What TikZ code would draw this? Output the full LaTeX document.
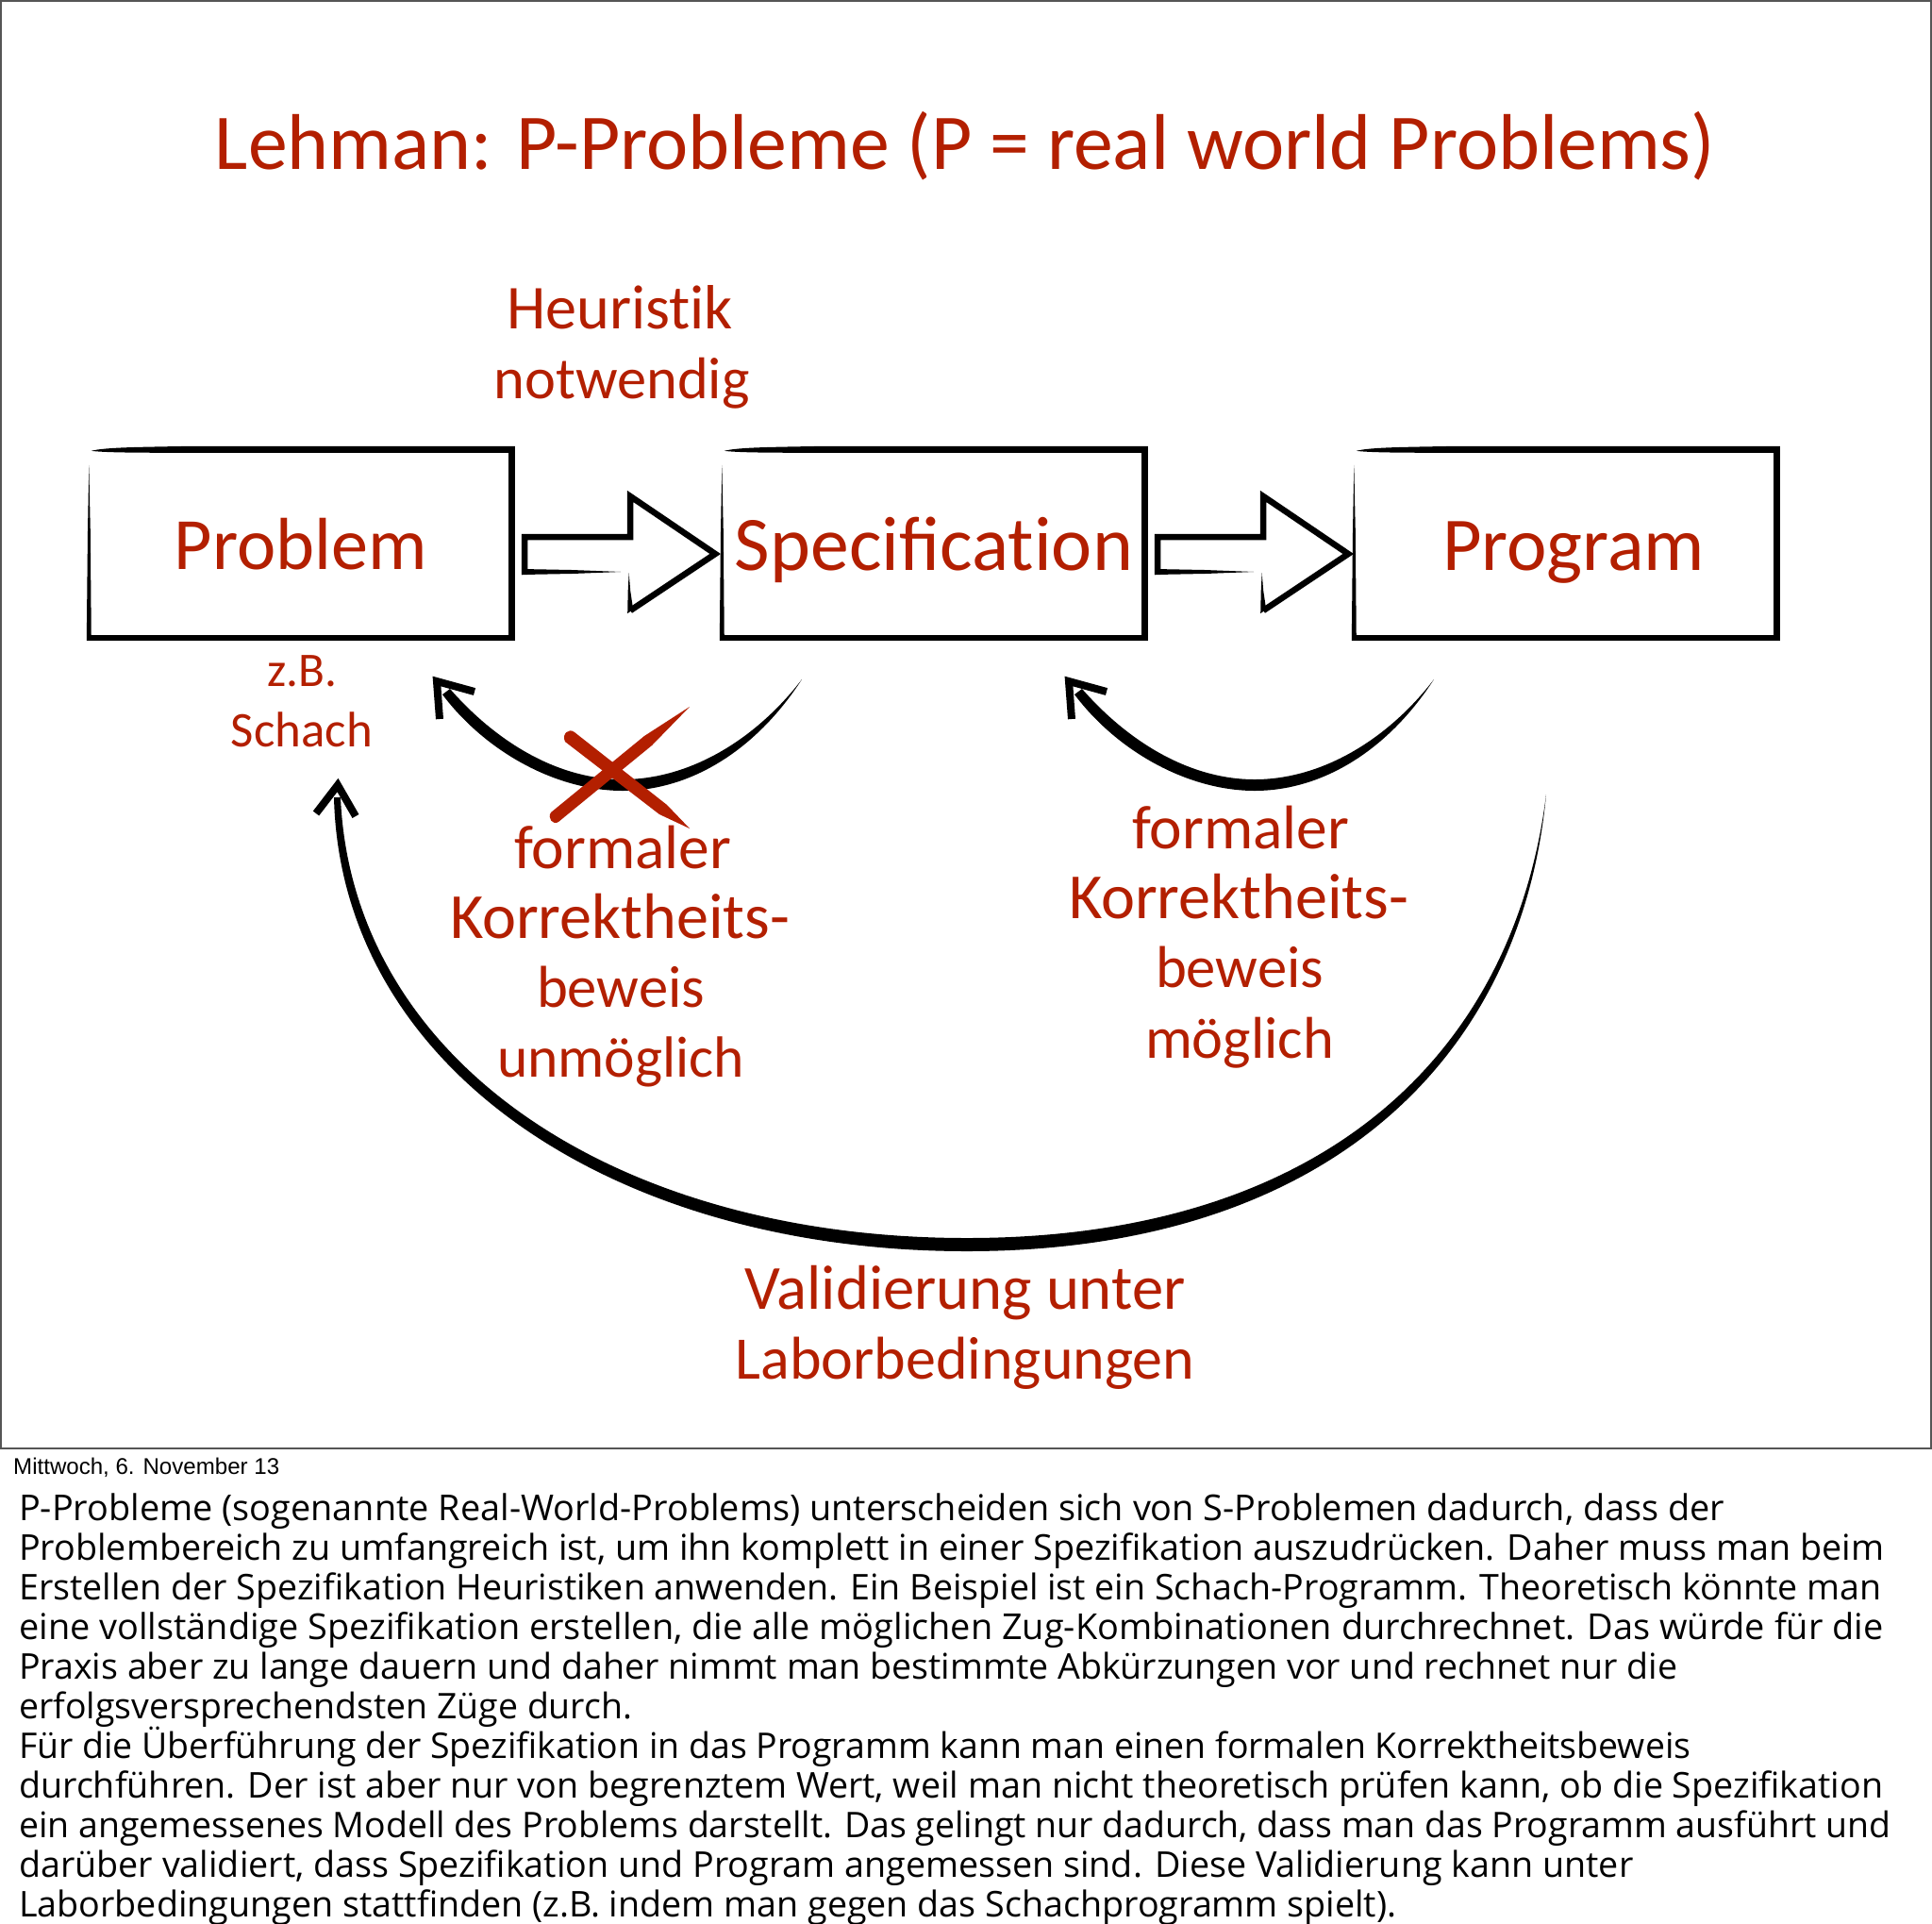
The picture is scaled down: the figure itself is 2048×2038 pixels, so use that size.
\documentclass[tikz,border=0pt]{standalone}
\usepackage{graphicx}
\usepackage{fontspec}
\setmainfont{Carlito}
\newfontfamily\bodyfont{Open Sans}
\newfontfamily\datefont{Liberation Sans}
\usetikzlibrary{calc}
\definecolor{skred}{HTML}{B31F00}
\definecolor{framegray}{HTML}{555555}
\newcommand{\fitbox}[2]{\resizebox{#1pt}{!}{\vphantom{Ügl(}#2}}
\newcommand{\boxtext}[1]{\vbox{\vskip6pt\hbox{#1}}}
\tikzset{
  redlabel/.style={text=skred,inner sep=0pt,anchor=center,yshift=-0.5pt,font=\fontsize{40}{48}\selectfont},
  bodyline/.style={text=black,inner sep=0pt,anchor=west,yshift=-2pt,font=\bodyfont\fontsize{30}{36}\selectfont},
  skbox/.style={minimum width=454pt,minimum height=206pt,inner sep=0pt,text=skred,font=\fontsize{60}{70}\selectfont},
  skstroke/.style={draw=black,line width=6.5pt,miter limit=10,line join=miter},
  skhead/.style={draw=black,line width=8pt,line join=miter,miter limit=10},
}
\newcommand{\sketchsides}[1]{%
  \begin{scope}[shift={(#1.north west)}]
    \fill (5,5) .. controls (20,1) and (60,1) .. (110,0) -- (454,0) -- (454,7) -- (110,7) .. controls (60,7) and (20,7) .. (5,5) -- cycle;
    \fill (447,0) rectangle (454,206);
    \fill (0,200) rectangle (454,206);
    \fill (2.5,20) -- (1.2,90) -- (0,206) -- (5,206) -- (4,90) -- cycle;
  \end{scope}}
\newcommand{\blockarrow}[1]{%
  \begin{scope}[shift={(#1.east)}]
    \draw[skstroke] (10,33) -- (10,-7) -- (122,-7) -- (122,-50) -- (212,11) -- (122,71);
    \fill (7,27) -- (60,28) -- (112,30) -- (60,32) -- (7,33) -- cycle;
    \fill (119,74) -- (119.5,50) -- (120.5,31) -- (122,50) -- (125,70) -- cycle;
  \end{scope}}
\newcommand{\smallarc}[2]{%
  \begin{scope}[shift={(#1)}]
    \coordinate (#2tail) at (850,720);
    \coordinate (#2tip) at (463,722);
    \fill (#2tail) .. controls (800,797) and (730,838) .. (660,838) .. controls (590,838) and (515,797) .. (469,736) -- (477,730) .. controls (525,785) and (590,826) .. (660,826) .. controls (730,826) and (800,785) .. (#2tail) -- cycle;
    \draw[skhead] (466,762) -- (#2tip) -- (503,733);
  \end{scope}}
\begin{document}
\begin{tikzpicture}[x=1pt,y=-1pt]
\useasboundingbox (0,0) rectangle (2048,2038);
\fill[white] (0,0) rectangle (2048,2038);
\draw[framegray,line width=2pt] (1,1) rectangle (2047,1535);

\node[redlabel] (title) at (1023,153) {\fitbox{1590}{Lehman: P-Probleme (P = real world Problems)}};
\node[redlabel] (heur1) at (657,327) {\fitbox{240}{Heurist\kern0pt ik}};
\node[redlabel] (heur2) at (659,402) {\fitbox{271}{notwendig}};

\node[skbox] (prob) at (319,576) {\boxtext{\fitbox{268}{Problem}}};
\node[skbox] (spec) at (990,576) {\boxtext{\fitbox{422}{Specificat\kern0pt ion}}};
\node[skbox] (prog) at (1660,576) {\hspace*{16pt}\boxtext{\fitbox{278}{Program}}};
\sketchsides{prob}\sketchsides{spec}\sketchsides{prog}
\blockarrow{prob}\blockarrow{spec}

\node[redlabel] (zb) at (320,711) {\fitbox{74}{z.B.}};
\node[redlabel] (schach) at (320,774) {\fitbox{150}{Schach}};

\smallarc{0,0}{a}
\smallarc{670,0}{b}

% red cross
\fill[skred] (599,786) .. controls (595,778) and (603,771) .. (609,776) -- (707,853) -- (731,878) -- (699,863) -- cycle;
\fill[skred] (584,861) -- (683,780) -- (731,749) -- (691,790) -- (592,871) .. controls (586,875) and (580,867) .. (584,861) -- cycle;

% big arc
\coordinate (ctail) at (1639,842);
\coordinate (ctip) at (358,832);
\fill (ctail) .. controls (1612,1128) and (1400,1326) .. (1025,1326) .. controls (650,1326) and (361,1132) .. (354,845) -- (361,845) .. controls (373,1123) and (650,1312) .. (1025,1312) .. controls (1400,1312) and (1604,1120) .. (ctail) -- cycle;
\draw[skhead] (335,862) -- (ctip) -- (377,865);

\node[redlabel] (f1) at (660,899) {\fitbox{230}{formaler}};
\node[redlabel] (f2) at (657,973) {\fitbox{360}{Korrektheits-}};
\node[redlabel] (f3) at (658,1047) {\fitbox{178}{beweis}};
\node[redlabel] (f4) at (658,1122) {\fitbox{262}{unmöglich}};
\node[redlabel] (g1) at (1315,878) {\fitbox{230}{formaler}};
\node[redlabel] (g2) at (1313,952) {\fitbox{360}{Korrektheits-}};
\node[redlabel] (g3) at (1314,1026) {\fitbox{178}{beweis}};
\node[redlabel] (g4) at (1314,1101) {\fitbox{200}{möglich}};
\node[redlabel] (v1) at (1023,1366) {\fitbox{467}{Validierung unter}};
\node[redlabel] (v2) at (1023,1441) {\fitbox{487}{Laborbedingungen}};

\node[anchor=west,inner sep=0pt,yshift=-2pt,font=\datefont\fontsize{24}{28}\selectfont] (date) at (14,1553) {\fitbox{282}{Mittwoch, 6. November 13}};

\node[bodyline] (l1) at (20,1597) {\fitbox{1808}{P-Probleme (sogenannte Real-World-Problems) unterscheiden sich von S-Problemen dadurch, dass der}};
\node[bodyline] (l2) at (20,1639) {\fitbox{1977}{Problembereich zu umfangreich ist, um ihn komplett in einer Spezifikation auszudrücken. Daher muss man beim}};
\node[bodyline] (l3) at (20,1681) {\fitbox{1974}{Erstellen der Spezifikation Heuristiken anwenden. Ein Beispiel ist ein Schach-Programm. Theoretisch könnte man}};
\node[bodyline] (l4) at (20,1723) {\fitbox{1976}{eine vollständige Spezifikation erstellen, die alle möglichen Zug-Kombinationen durchrechnet. Das würde für die}};
\node[bodyline] (l5) at (20,1765) {\fitbox{1758}{Praxis aber zu lange dauern und daher nimmt man bestimmte Abkürzungen vor und rechnet nur die}};
\node[bodyline] (l6) at (20,1807) {\fitbox{650}{erfolgsversprechendsten Züge durch.}};
\node[bodyline] (l7) at (20,1849) {\fitbox{1772}{Für die Überführung der Spezifikation in das Programm kann man einen formalen Korrektheitsbeweis}};
\node[bodyline] (l8) at (20,1891) {\fitbox{1976}{durchführen. Der ist aber nur von begrenztem Wert, weil man nicht theoretisch prüfen kann, ob die Spezifikation}};
\node[bodyline] (l9) at (20,1933) {\fitbox{1984}{ein angemessenes Modell des Problems darstellt. Das gelingt nur dadurch, dass man das Programm ausführt und}};
\node[bodyline] (l10) at (20,1975) {\fitbox{1711}{darüber validiert, dass Spezifikation und Program angemessen sind. Diese Validierung kann unter}};
\node[bodyline] (l11) at (20,2017) {\fitbox{1460}{Laborbedingungen stattfinden (z.B. indem man gegen das Schachprogramm spielt).}};
\end{tikzpicture}
\end{document}
